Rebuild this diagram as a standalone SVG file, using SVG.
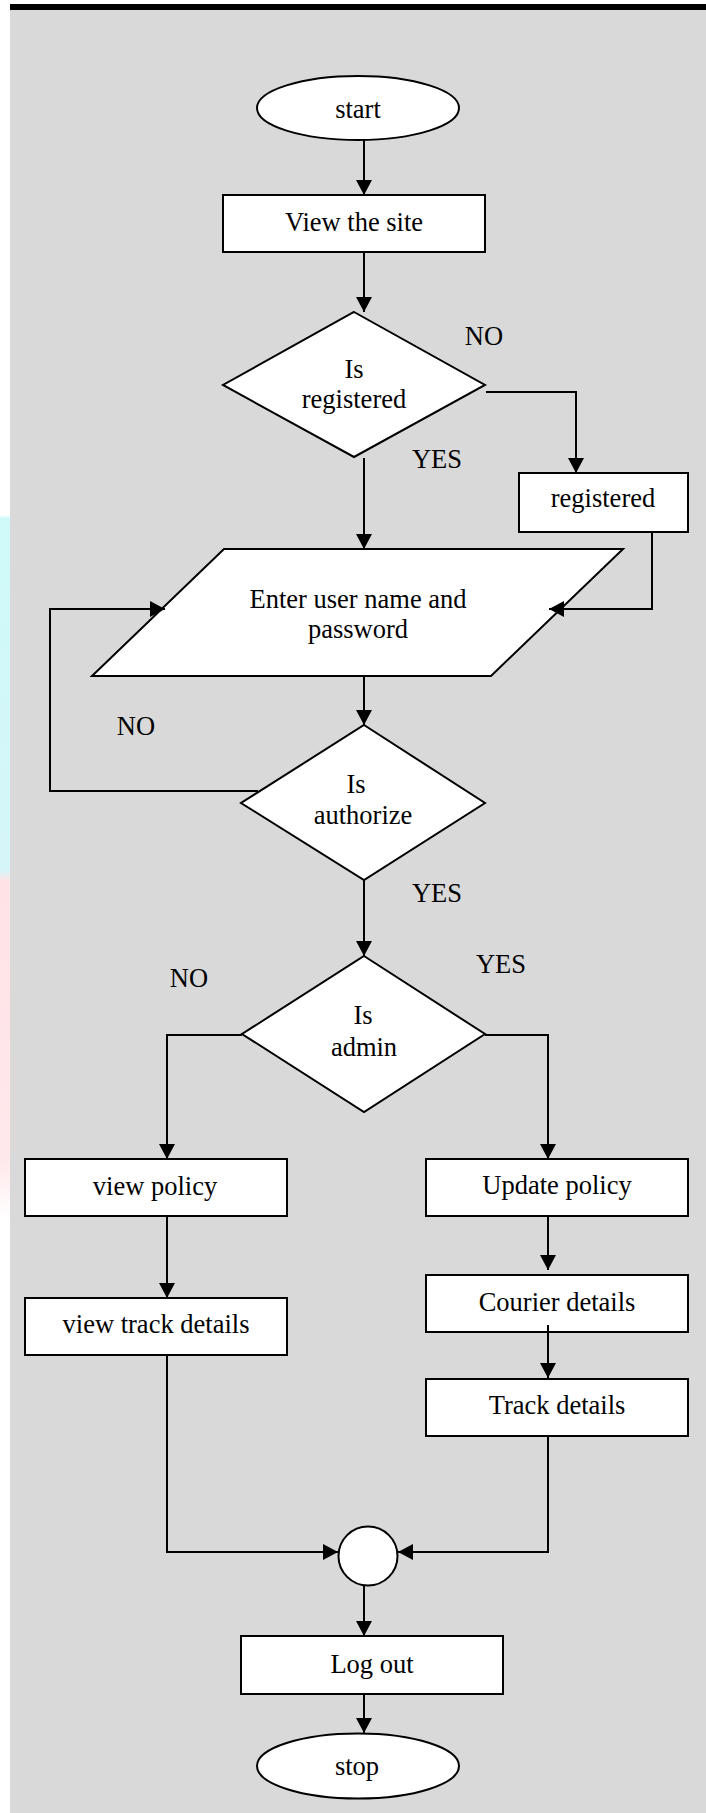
<svg xmlns="http://www.w3.org/2000/svg" width="706" height="1813" viewBox="0 0 706 1813">
<defs>
<linearGradient id="strip" x1="0" y1="0" x2="0" y2="1813" gradientUnits="userSpaceOnUse">
<stop offset="0" stop-color="#ffffff"/>
<stop offset="0.284" stop-color="#ffffff"/>
<stop offset="0.286" stop-color="#cffafa"/>
<stop offset="0.48" stop-color="#d6f5f8"/>
<stop offset="0.486" stop-color="#ffe2e6"/>
<stop offset="0.64" stop-color="#ffe8eb"/>
<stop offset="0.672" stop-color="#ffffff"/>
<stop offset="1" stop-color="#ffffff"/>
</linearGradient>
<marker id="arr" markerUnits="userSpaceOnUse" markerWidth="16" markerHeight="16" viewBox="0 0 16 16" refX="15" refY="8" orient="auto">
<path d="M0,0 L15,8 L0,16 Z" fill="#000"/>
</marker>
</defs>
<style>
.shape{fill:#fff;stroke:#000;stroke-width:2}
.t{font-family:"Liberation Serif","Times New Roman",serif;font-size:26.5px;fill:#000;text-anchor:middle}
.c{fill:none;stroke:#000;stroke-width:2}
</style>
<rect x="0" y="0" width="706" height="1813" fill="#ffffff"/>
<rect x="0" y="0" width="10" height="1813" fill="url(#strip)"/>
<rect x="10" y="10" width="696" height="1803" fill="#d9d9d9"/>
<rect x="10" y="4" width="696" height="6" fill="#000"/>

<g id="start"><ellipse class="shape" cx="358" cy="108" rx="101" ry="32"/><text class="t" x="358" y="118">start</text></g>
<g id="view-site"><rect class="shape" x="223" y="195" width="262" height="57"/><text class="t" x="354" y="231">View the site</text></g>
<g id="is-registered"><polygon class="shape" points="354,312 485,385 354,457 223,385"/><text class="t" x="354" y="378">Is</text><text class="t" x="354" y="408">registered</text></g>
<g id="registered"><rect class="shape" x="519" y="473" width="169" height="59"/><text class="t" x="603" y="507">registered</text></g>
<g id="enter-credentials"><polygon class="shape" points="224,549 623,549 491,676 92,676"/><text class="t" x="358" y="608">Enter user name and</text><text class="t" x="358" y="638">password</text></g>
<g id="is-authorize"><polygon class="shape" points="364,725 485,803 364,880 241,803"/><text class="t" x="356" y="793">Is</text><text class="t" x="363" y="824">authorize</text></g>
<g id="is-admin"><polygon class="shape" points="364,956 485,1034 364,1112 242,1034"/><text class="t" x="363" y="1024">Is</text><text class="t" x="364" y="1056">admin</text></g>
<g id="view-policy"><rect class="shape" x="25" y="1159" width="262" height="57"/><text class="t" x="155" y="1195">view policy</text></g>
<g id="view-track"><rect class="shape" x="25" y="1298" width="262" height="57"/><text class="t" x="156" y="1333">view track details</text></g>
<g id="update-policy"><rect class="shape" x="426" y="1159" width="262" height="57"/><text class="t" x="557" y="1194">Update policy</text></g>
<g id="courier-details"><rect class="shape" x="426" y="1275" width="262" height="57"/><text class="t" x="557" y="1311">Courier details</text></g>
<g id="track-details"><rect class="shape" x="426" y="1379" width="262" height="57"/><text class="t" x="557" y="1414">Track details</text></g>
<g id="merge"><circle class="shape" cx="368" cy="1556" r="29.5"/></g>
<g id="logout"><rect class="shape" x="241" y="1636" width="262" height="58"/><text class="t" x="372" y="1673">Log out</text></g>
<g id="stop"><ellipse class="shape" cx="358" cy="1766" rx="101" ry="32.5"/><text class="t" x="357" y="1775">stop</text></g>

<g id="labels">
<text class="t" x="484" y="345">NO</text>
<text class="t" x="437" y="468">YES</text>
<text class="t" x="136" y="735">NO</text>
<text class="t" x="437" y="902">YES</text>
<text class="t" x="189" y="987">NO</text>
<text class="t" x="501" y="973">YES</text>
</g>

<g id="connectors">
<path class="c" d="M364,140 V195" marker-end="url(#arr)"/>
<path class="c" d="M364,252 V312" marker-end="url(#arr)"/>
<path class="c" d="M486,392 H576 V473" marker-end="url(#arr)"/>
<path class="c" d="M364,458 V549" marker-end="url(#arr)"/>
<path class="c" d="M652,532 V609 H549" marker-end="url(#arr)"/>
<path class="c" d="M364,676 V725" marker-end="url(#arr)"/>
<path class="c" d="M258,791 H50 V609 H165" marker-end="url(#arr)"/>
<path class="c" d="M364,880 V956" marker-end="url(#arr)"/>
<path class="c" d="M242,1035 H167 V1159" marker-end="url(#arr)"/>
<path class="c" d="M485,1035 H548 V1159" marker-end="url(#arr)"/>
<path class="c" d="M167,1216 V1298" marker-end="url(#arr)"/>
<path class="c" d="M548,1216 V1270" marker-end="url(#arr)"/>
<path class="c" d="M548,1325 V1378" marker-end="url(#arr)"/>
<path class="c" d="M167,1355 V1552 H338" marker-end="url(#arr)"/>
<path class="c" d="M548,1436 V1552 H398" marker-end="url(#arr)"/>
<path class="c" d="M364,1586 V1636" marker-end="url(#arr)"/>
<path class="c" d="M364,1694 V1733" marker-end="url(#arr)"/>
</g>
</svg>
